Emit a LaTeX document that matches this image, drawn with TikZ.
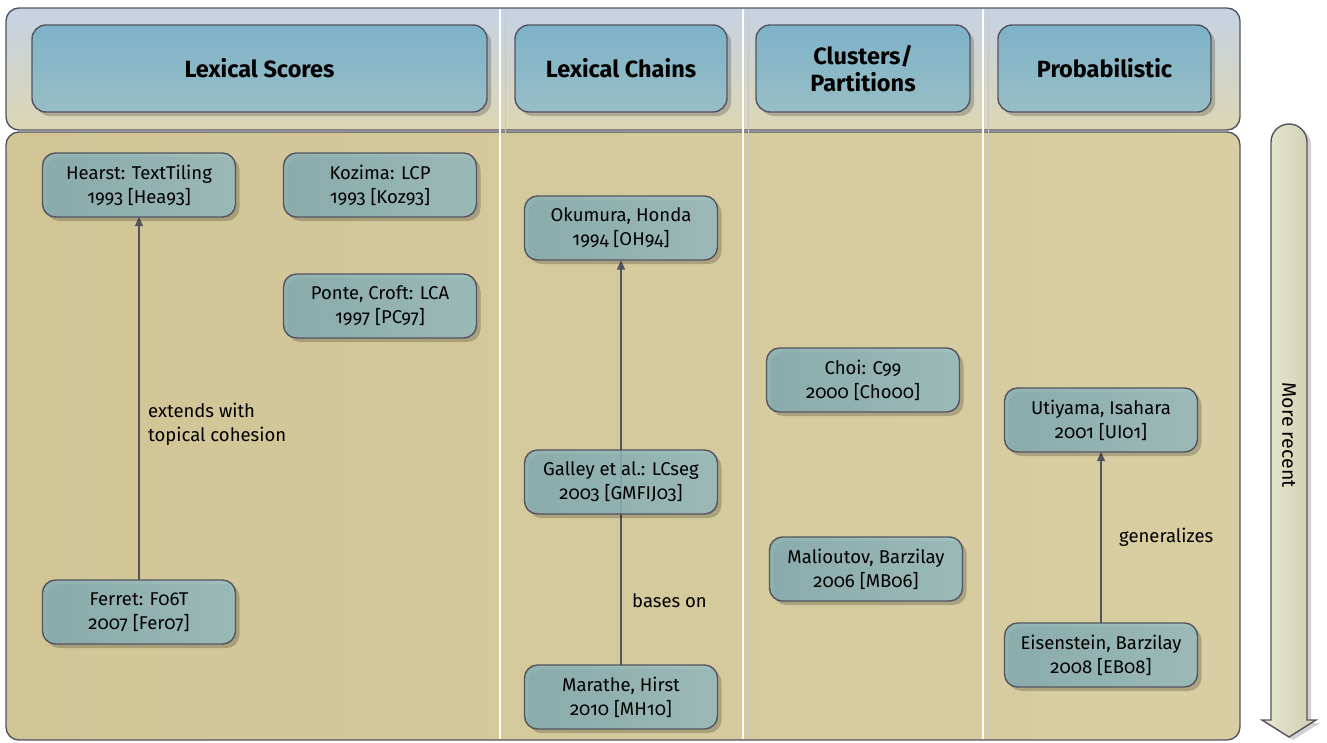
\documentclass[tikz,border=0pt]{standalone}
\usepackage{fontspec}
\setmainfont{Fira Sans}[Numbers=OldStyle]
\usetikzlibrary{shadows,arrows.meta}

\definecolor{edge}{RGB}{84,84,96}
\definecolor{bandtop}{RGB}{198,210,228}
\definecolor{bandbot}{RGB}{220,214,180}
\definecolor{field}{RGB}{209,197,150}
\definecolor{fieldlight}{RGB}{216,206,162}
\definecolor{headA}{RGB}{126,178,200}
\definecolor{headB}{RGB}{152,190,198}
\definecolor{paperA}{RGB}{132,174,180}
\definecolor{paperB}{RGB}{152,190,194}
\definecolor{timeA}{RGB}{232,232,205}
\definecolor{timeB}{RGB}{206,206,180}

\tikzset{
  band/.style={draw=edge, line width=1.4pt, rounded corners=13pt},
  sep/.style={draw=white, line width=1.6pt},
  sepshade/.style={draw=black!22, line width=0.8pt},
  header/.style={draw=edge, line width=1.4pt, rounded corners=14pt,
    top color=headA, bottom color=headB, align=center,
    font=\fontsize{23.5}{27}\selectfont\bfseries,
    drop shadow={shadow xshift=4pt, shadow yshift=-4pt, fill=black, opacity=0.2}},
  paper/.style={draw=edge, line width=1.4pt, rounded corners=13pt,
    left color=paperA, right color=paperB, fill opacity=0.84, text opacity=1,
    align=center, minimum width=193pt, minimum height=64pt, inner sep=2pt,
    font=\fontsize{18.5}{24}\selectfont,
    drop shadow={shadow xshift=4pt, shadow yshift=-4pt, fill=black, opacity=0.2}},
  link/.style={draw=edge, line width=1.3pt, -{Triangle[width=8pt,length=9pt]}},
  note/.style={anchor=west, align=left, inner sep=0pt,
    font=\fontsize{18.5}{24}\selectfont},
}

\begin{document}
\begin{tikzpicture}[x=1pt,y=-1pt]
\useasboundingbox (0,0) rectangle (1327,742);

% background bands
\path[band, top color=bandtop, bottom color=bandbot] (6,8) rectangle (1240,130);
\path[band, left color=field, right color=fieldlight] (6,132) rectangle (1240,740);

% column separators
\foreach \c in {500,743,983} {
  \draw[sepshade] (\c+5,10) -- (\c+5,738);
  \draw[sep] (\c,9) -- (\c,739);
}

% column headers
\node[header, minimum width=455pt, minimum height=87pt] (hscores) at (259.5,68.5) {Lexical Scores};
\node[header, minimum width=212pt, minimum height=87pt] (hchains) at (621,68.5) {Lexical Chains};
\node[header, minimum width=214pt, minimum height=87pt] (hclusters) at (863,68.5) {Clusters/\\Partitions};
\node[header, minimum width=213pt, minimum height=87pt] (hprob) at (1104.5,68.5) {Probabilistic};

% node positions (placed before the connectors so the lines run underneath)
\path
  (139,185) coordinate (p-hearst)
  (139,612) coordinate (p-ferret)
  (621,228) coordinate (p-okumura)
  (621,697) coordinate (p-marathe)
  (1101,420) coordinate (p-utiyama)
  (1101,655) coordinate (p-eisenstein);

% relations, drawn beneath the boxes
\draw[link, shorten >=32pt, shorten <=32pt] (p-ferret) -- (p-hearst);
\draw[link, shorten >=32.5pt, shorten <=32pt] (p-marathe) -- (p-okumura);
\draw[link, shorten >=32pt, shorten <=32pt] (p-eisenstein) -- (p-utiyama);

% lexical scores
\node[paper] (hearst) at (p-hearst) {Hearst: TextTiling\\1993 [Hea93]};
\node[paper] (kozima) at (380,185) {Kozima: LCP\\1993 [Koz93]};
\node[paper] (ponte) at (380,306) {Ponte, Croft: LCA\\1997 [PC97]};
\node[paper] (ferret) at (p-ferret) {Ferret: F06T\\2007 [Fer07]};

% lexical chains
\node[paper] (okumura) at (p-okumura) {Okumura, Honda\\1994 [OH94]};
\node[paper] (galley) at (621,482) {Galley et al.: LCseg\\2003 [GMFIJ03]};
\node[paper] (marathe) at (p-marathe) {Marathe, Hirst\\2010 [MH10]};

% clusters / partitions
\node[paper] (choi) at (863,380) {Choi: C99\\2000 [Cho00]};
\node[paper] (malioutov) at (866,569) {Malioutov, Barzilay\\2006 [MB06]};

% probabilistic
\node[paper] (utiyama) at (p-utiyama) {Utiyama, Isahara\\2001 [UI01]};
\node[paper] (eisenstein) at (p-eisenstein) {Eisenstein, Barzilay\\2008 [EB08]};

% relation labels
\node[note] (extends) at (148,424) {extends with\\topical cohesion};
\node[note] (bases) at (632,601) {bases on};
\node[note] (general) at (1119,537) {generalizes};

% time axis
\draw[draw=edge, line width=1.4pt, left color=timeA, right color=timeB,
  drop shadow={shadow xshift=4pt, shadow yshift=-3pt, fill=black, opacity=0.18}]
  (1271,720) -- (1271,142) arc[start angle=180, end angle=0, radius=18pt]
  -- (1307,720) -- (1316,720) -- (1289,737) -- (1262,720) -- cycle;
\node[rotate=-90, font=\fontsize{19.5}{20}\selectfont] (recent) at (1289,435) {More recent};
\end{tikzpicture}
\end{document}
